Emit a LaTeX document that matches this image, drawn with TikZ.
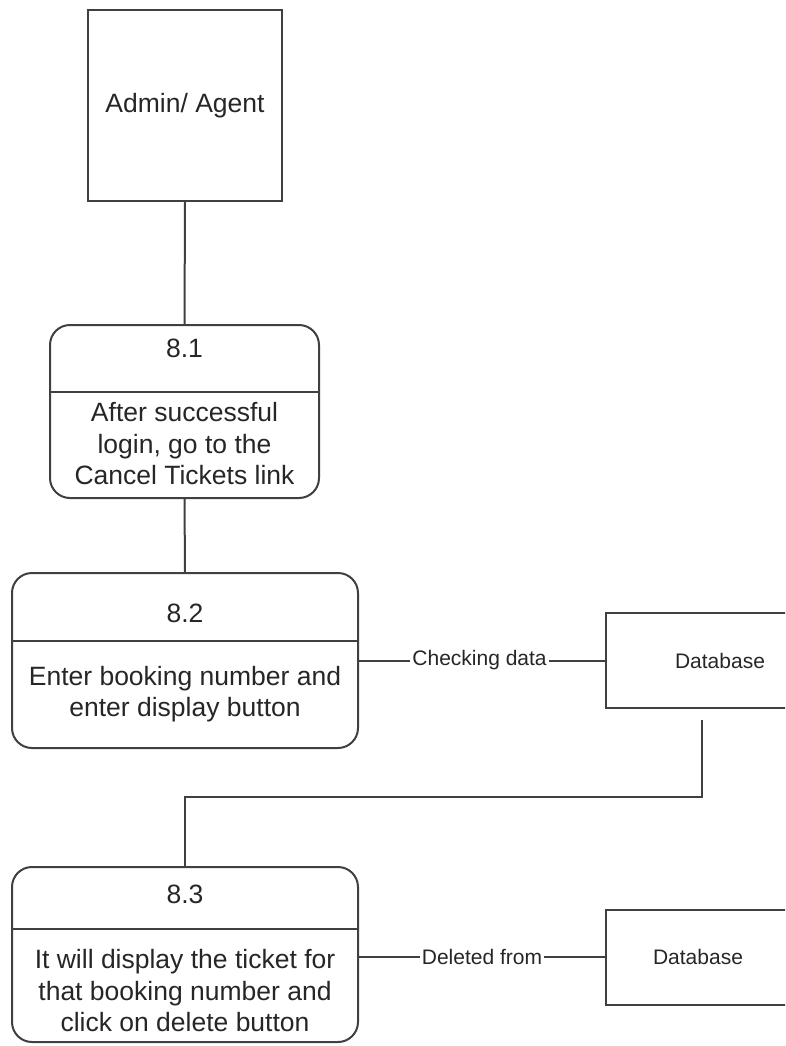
\documentclass[tikz,border=0pt]{standalone}
\usepackage{fontspec}
\setmainfont{Liberation Sans}
\begin{document}
\begin{tikzpicture}[x=1pt,y=-1pt,
  line width=2pt, draw=black!75,
  every node/.style={text=black!85, inner sep=0pt},
  entity/.style={draw, minimum width=194pt, minimum height=191pt, font=\fontsize{26.5}{31}\selectfont},
  procbox/.style={draw, rounded corners=20pt},
  title/.style={font=\fontsize{26.5}{31}\selectfont},
  body/.style={font=\fontsize{26.5}{31.5}\selectfont, align=center},
  store/.style={draw, minimum height=95pt, font=\fontsize{21}{25}\selectfont},
  flowlabel/.style={fill=white, inner xsep=2pt, inner ysep=1pt, font=\fontsize{21}{25}\selectfont}
]
\useasboundingbox (0,0) rectangle (785,1046);
\clip (0,0) rectangle (785,1046);

% external entity
\node[entity] (admin) at (185,105.5) {Admin/ Agent};

% process 8.1
\node[procbox, minimum width=269pt, minimum height=173pt] (p1) at (184.5,411.5) {};
\draw (p1.west |- 0,392) -- (p1.east |- 0,392);
\node[title] (t1) at (184.5,348) {8.1};
\node[body] (b1) at (184.5,444) {After successful\\login, go to the\\Cancel Tickets link};

% process 8.2
\node[procbox, minimum width=346pt, minimum height=175pt] (p2) at (185,660.5) {};
\draw (p2.west |- 0,641) -- (p2.east |- 0,641);
\node[title] (t2) at (185,613) {8.2};
\node[body] (b2) at (185,694) {Enter booking number and\\enter display button};

% process 8.3
\node[procbox, minimum width=346pt, minimum height=175pt] (p3) at (185,954.5) {};
\draw (p3.west |- 0,929) -- (p3.east |- 0,929);
\node[title] (t3) at (185,894) {8.3};
\node[body] (b3) at (185,991) {It will display the ticket for\\that booking number and\\click on delete button};

% data stores
\node[store, minimum width=228pt] (db1) at (720,660.5) {Database};
\node[store, minimum width=184pt] (db2) at (698,957) {Database};

% connectors
\draw (admin.south) -- (p1.north);
\draw (p1.south) -- (p2.north);
\draw (p2.east |- db1.west) -- node[flowlabel, pos=0.49] (l1) {Checking data} (db1.west);
\coordinate (c1) at (702,720);
\draw (c1) -- (c1 |- 0,797) -| (p3.north);
\draw (p3.east |- db2.west) -- node[flowlabel, pos=0.5] (l2) {Deleted from} (db2.west);
\end{tikzpicture}
\end{document}
